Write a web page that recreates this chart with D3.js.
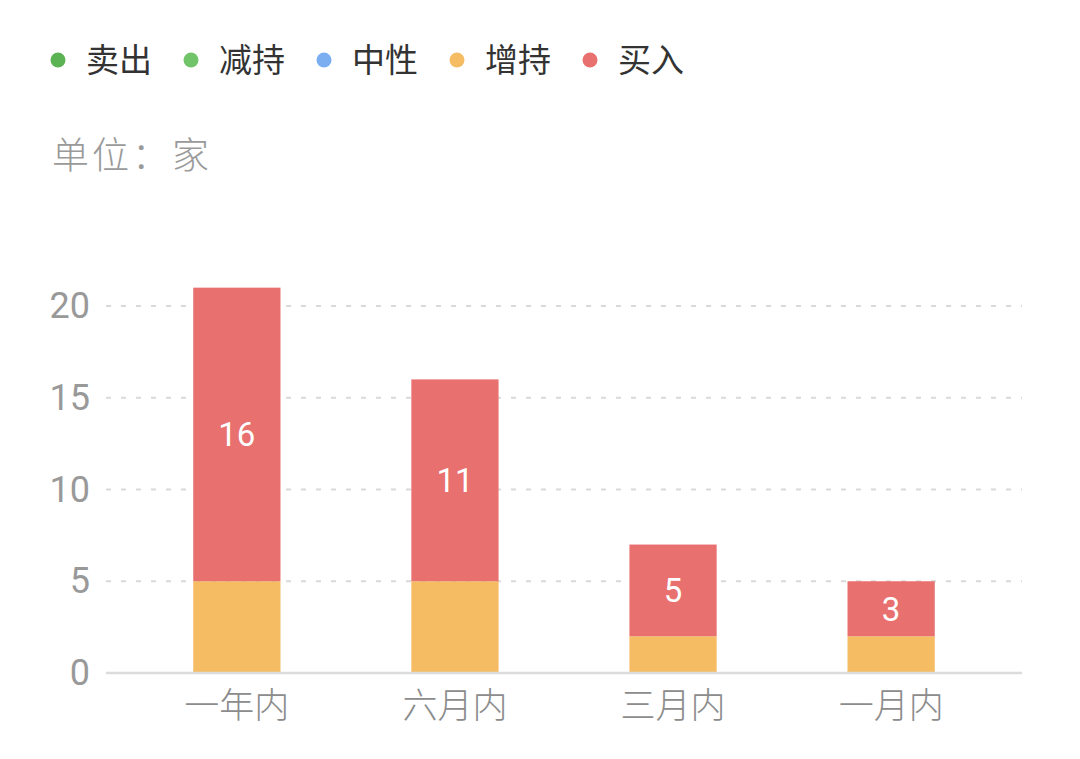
<!DOCTYPE html>
<html>
<head>
<meta charset="utf-8">
<script src="https://cdn.jsdelivr.net/npm/d3@7"></script>
<style>
  body { margin: 0; background: #fff; }
  svg { display: block; font-family: "Noto Sans CJK SC", "Noto Sans", sans-serif; }
</style>
</head>
<body>
<svg id="chart" width="1080" height="759"></svg>
<script>
// data
var categories = ["一年内", "六月内", "三月内", "一月内"];
var seriesNames = ["卖出", "减持", "中性", "增持", "买入"];
var seriesColors = ["#5cb353", "#72c46b", "#7aaef0", "#f5bc63", "#e8706e"];
var sellVals = [0, 0, 0, 0];
var reduceVals = [0, 0, 0, 0];
var neutralVals = [0, 0, 0, 0];
var addVals = [5, 5, 2, 2];
var buyVals = [16, 11, 5, 3];
var yTicks = [0, 5, 10, 15, 20];
var unitLabel = "单位：家";

var svg = d3.select("#chart");

var rows = categories.map(function(c, i) {
  return { cat: c, "卖出": sellVals[i], "减持": reduceVals[i], "中性": neutralVals[i], "增持": addVals[i], "买入": buyVals[i] };
});
var stacked = d3.stack().keys(seriesNames)(rows);

var x = d3.scaleBand()
  .domain(categories)
  .range([106, 1022])
  .paddingInner(0.6)
  .paddingOuter(0.4);

var y = d3.scaleLinear()
  .domain([0, 20])
  .range([673, 306]);

var color = d3.scaleOrdinal().domain(seriesNames).range(seriesColors);

// legend
var legend = svg.append("g").attr("class", "legend");
var legendX = [58, 191, 324, 457, 590];
seriesNames.forEach(function(name, i) {
  var g = legend.append("g").attr("transform", "translate(" + legendX[i] + ",60)");
  g.append("circle").attr("r", 7.5).attr("fill", color(name));
  g.append("text")
    .attr("x", 28)
    .attr("dy", "0.36em")
    .attr("font-size", 33)
    .attr("fill", "#333")
    .text(name);
});

svg.append("text")
  .attr("x", 52)
  .attr("y", 156)
  .attr("dy", "0.36em")
  .attr("font-size", 37)
  .attr("font-weight", 300)
  .attr("letter-spacing", 3)
  .attr("fill", "#9a9a9a")
  .text(unitLabel);

// grid
var grid = svg.append("g").attr("class", "grid");
grid.selectAll("line")
  .data(yTicks.filter(function(d) { return d > 0; }))
  .enter()
  .append("line")
  .attr("x1", 106)
  .attr("x2", 1022)
  .attr("y1", function(d) { return y(d); })
  .attr("y2", function(d) { return y(d); })
  .attr("stroke", "#d9d9d9")
  .attr("stroke-width", 2)
  .attr("stroke-dasharray", "5,10");

// y axis labels
var yAxis = svg.append("g")
  .attr("transform", "translate(90,0)")
  .call(d3.axisLeft(y).tickValues(yTicks).tickSize(0).tickPadding(0));
yAxis.select(".domain").remove();
yAxis.selectAll("text")
  .attr("font-size", 36)
  .attr("fill", "#999")
  .attr("font-family", "Roboto, sans-serif");

// bars
var layers = svg.append("g").selectAll("g")
  .data(stacked)
  .enter()
  .append("g")
  .attr("fill", function(d) { return color(d.key); });

layers.selectAll("rect")
  .data(function(d) { return d; })
  .enter()
  .append("rect")
  .attr("x", function(d) { return x(d.data.cat); })
  .attr("width", x.bandwidth())
  .attr("y", function(d) { return y(d[1]); })
  .attr("height", function(d) { return y(d[0]) - y(d[1]); });

// value labels on 买入
var buyLayer = stacked[seriesNames.indexOf("买入")];
svg.append("g").selectAll("text")
  .data(buyLayer)
  .enter()
  .append("text")
  .attr("x", function(d) { return x(d.data.cat) + x.bandwidth() / 2; })
  .attr("y", function(d) { return (y(d[0]) + y(d[1])) / 2; })
  .attr("dy", "0.36em")
  .attr("text-anchor", "middle")
  .attr("font-size", 33)
  .attr("font-family", "Roboto, sans-serif")
  .attr("fill", "#fff")
  .text(function(d) { return d[1] - d[0]; });

// x axis
var xAxis = svg.append("g")
  .attr("transform", "translate(0,673)")
  .call(d3.axisBottom(x).tickSize(0).tickPadding(20));
xAxis.select(".domain").remove();
xAxis.append("line")
  .attr("x1", 106)
  .attr("x2", 1022)
  .attr("stroke", "#dcdcdc")
  .attr("stroke-width", 2.5);
xAxis.selectAll("text")
  .attr("font-size", 35)
  .attr("font-weight", 300)
  .attr("fill", "#8c8c8c")
  .attr("font-family", "\"Noto Sans CJK SC\", sans-serif");
</script>
</body>
</html>
